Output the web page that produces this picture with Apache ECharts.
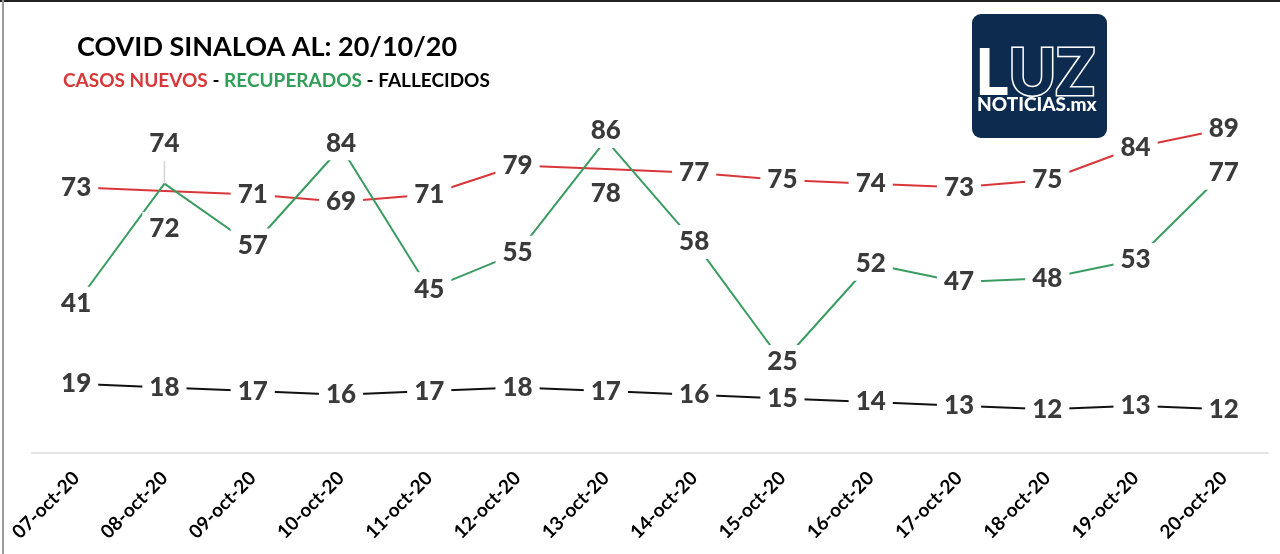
<!DOCTYPE html>
<html>
<head>
<meta charset="utf-8">
<script src="https://cdn.jsdelivr.net/npm/echarts@6/dist/echarts.min.js"></script>
<style>html,body{margin:0;padding:0;background:#fff;}#c{width:1280px;height:554px;}</style>
</head>
<body>
<div id="c"></div>
<script>
const categories = ['07-oct-20','08-oct-20','09-oct-20','10-oct-20','11-oct-20','12-oct-20','13-oct-20','14-oct-20','15-oct-20','16-oct-20','17-oct-20','18-oct-20','19-oct-20','20-oct-20'];
const casosNuevos = [73,72,71,69,71,79,78,77,75,74,73,75,84,89];
const recuperados = [41,74,57,84,45,55,86,58,25,52,47,48,53,77];
const fallecidos  = [19,18,17,16,17,18,17,16,15,14,13,12,13,12];

const titleText = 'COVID SINALOA AL: 20/10/20';

// label displacement (where labels collide), index -> [dx, dy]
const redLabelShift = {1:[0,38], 6:[0,25]};
const greenLabelShift = {1:[0,-40], 3:[0,-4], 6:[0,-9]};
// labels that keep a leader line to their point
const greenLeaderIdx = [1];

const FONT = 'Lato';
const RED = '#d9363a', GREEN = '#3a9c60', BLACK = '#111111';

function withShift(values, shift, leaders){
  return values.map((v,i)=> {
    if (!shift[i]) return v;
    const item = {value:v, label:{offset:shift[i]}};
    if (leaders && leaders.indexOf(i) >= 0) item.labelLine = {show:true, lineStyle:{color:'#d4d4d4', width:1.5}};
    return item;
  });
}
const labelBase = {
  show:true, position:'inside', color:'#3a3a3a', fontFamily:FONT, fontWeight:900,
  fontSize:26, backgroundColor:'#ffffff', padding:[4,7], textBorderWidth:0
};
function lineSeries(name, data, color){
  return {
    name, type:'line', data, symbol:'none', z:2,
    lineStyle:{color, width:2}, label:{show:false},
    emphasis:{disabled:true}, animation:false
  };
}
function labelSeries(name, data){
  return {
    name, type:'scatter', data, symbol:'circle', symbolSize:0, z:10,
    itemStyle:{color:'#ffffff', opacity:1}, label:labelBase,
    labelLine:{show:false, smooth:false, length2:0},
    emphasis:{disabled:true}, animation:false, silent:true
  };
}

const chart = echarts.init(document.getElementById('c'), null, {renderer:'canvas'});
chart.setOption({
  backgroundColor:'#ffffff',
  animation:false,
  title:[
    {text:titleText, left:72, top:29, textStyle:{fontFamily:FONT, fontWeight:'bold', fontSize:27, color:'#000'}},
    {text:'{r|CASOS NUEVOS}{k| - }{g|RECUPERADOS}{k| - }{k|FALLECIDOS}', left:58, top:66,
     textStyle:{fontFamily:FONT, fontWeight:'bold', fontSize:19,
       rich:{
         r:{color:RED, fontFamily:FONT, fontWeight:'bold', fontSize:19},
         g:{color:'#2f9e58', fontFamily:FONT, fontWeight:'bold', fontSize:19},
         k:{color:'#000', fontFamily:FONT, fontWeight:'bold', fontSize:19}
       }}}
  ],
  grid:{left:32, right:12, top:89, bottom:101, containLabel:false},
  xAxis:{
    type:'category', data:categories, boundaryGap:true,
    axisLine:{show:true, lineStyle:{color:'#e3e3e3', width:2}},
    axisTick:{show:false},
    axisLabel:{rotate:45, margin:22, color:'#000', fontFamily:FONT, fontWeight:'bold', fontSize:19, interval:0}
  },
  yAxis:{type:'value', min:0, max:100, show:false, splitLine:{show:false}},
  series:[
    lineSeries('CASOS NUEVOS', casosNuevos, RED),
    lineSeries('RECUPERADOS', recuperados, GREEN),
    lineSeries('FALLECIDOS', fallecidos, BLACK),
    labelSeries('CASOS NUEVOS', withShift(casosNuevos, redLabelShift, null)),
    labelSeries('RECUPERADOS', withShift(recuperados, greenLabelShift, greenLeaderIdx)),
    labelSeries('FALLECIDOS', fallecidos)
  ],
  graphic:[
    {type:'rect', shape:{x:0, y:0, width:1280, height:2}, style:{fill:'#222'}, silent:true},
    {type:'rect', shape:{x:2, y:0, width:2, height:554}, style:{fill:'#9a9a9a'}, silent:true},
    {type:'rect', shape:{x:972, y:14, width:135, height:124, r:9}, style:{fill:'#0d2a4f'}, silent:true},
    {type:'text', x:975, y:74, style:{
      text:'{l|L}{u|UZ}', textVerticalAlign:'middle',
      rich:{
        l:{fill:'#ffffff', fontFamily:FONT, fontWeight:900, fontSize:64},
        u:{fill:'#0d2a4f', stroke:'#ffffff', lineWidth:3, fontFamily:FONT, fontWeight:900, fontSize:64}
      }}, silent:true},
    {type:'text', x:977, y:105, style:{
      text:'NOTICIAS.mx', fill:'#ffffff', fontFamily:FONT, fontWeight:900, fontSize:19,
      textVerticalAlign:'middle'}, silent:true}
  ]
});
</script>
</body>
</html>
